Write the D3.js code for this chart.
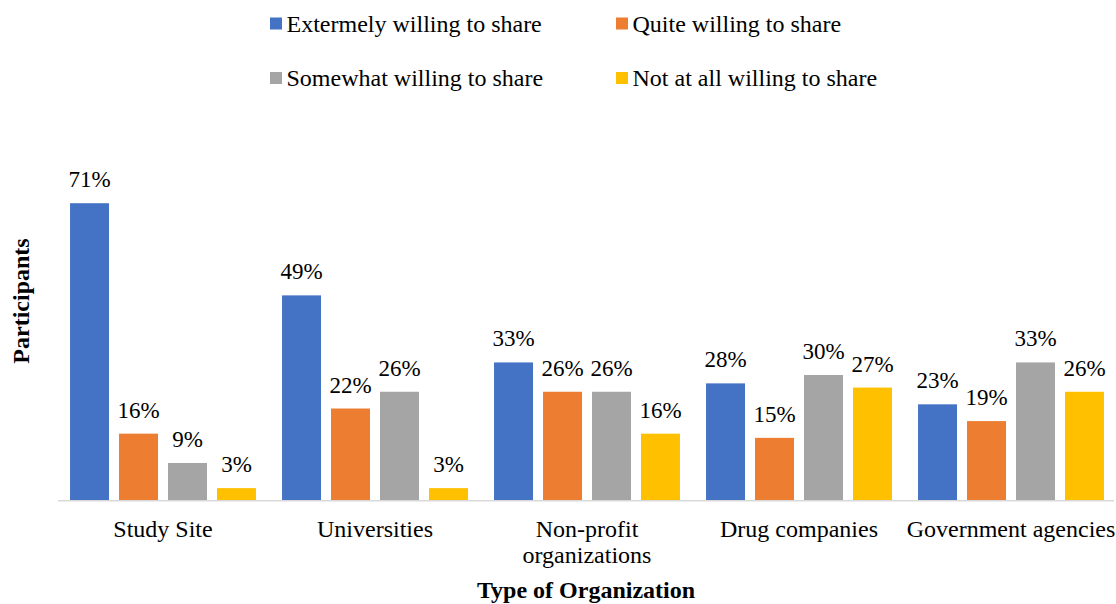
<!DOCTYPE html>
<html>
<head>
<meta charset="utf-8">
<script src="https://cdn.jsdelivr.net/npm/d3@7"></script>
<style>
  html, body { margin: 0; padding: 0; background: #fff; }
  svg { display: block; font-family: "Liberation Serif", "Times New Roman", serif; }
</style>
</head>
<body>
<svg id="chart" width="1116" height="604"></svg>
<script>
// Organization types along the x axis
const categories = ["Study Site", "Universities", "Non-profit organizations", "Drug companies", "Government agencies"];
// Wrapped category labels as shown under the axis
const categoryLines = [["Study Site"], ["Universities"], ["Non-profit", "organizations"], ["Drug companies"], ["Government agencies"]];

// Willingness levels (legend order)
const seriesNames = ["Extermely willing to share", "Quite willing to share", "Somewhat willing to share", "Not at all willing to share"];
const seriesColors = ["#4472C4", "#ED7D31", "#A5A5A5", "#FFC000"];

// Percent of participants per organization type, one array per willingness level
const extremely = [71, 49, 33, 28, 23];
const quite     = [16, 22, 26, 15, 19];
const somewhat  = [9, 26, 26, 30, 33];
const notAtAll  = [3, 3, 16, 27, 26];
const seriesValues = [extremely, quite, somewhat, notAtAll];

const svg = d3.select("#chart");

const x0 = d3.scaleBand()
  .domain(categories)
  .range([57, 1117])
  .paddingInner(0.123)
  .paddingOuter(0.0615);

const x1 = d3.scaleBand()
  .domain(seriesNames)
  .range([0, x0.bandwidth()])
  .paddingInner(0.204);

const y = d3.scaleLinear().domain([0, 80]).range([500.7, 165.5]);

// Bars and value labels
const groups = svg.append("g").selectAll("g")
  .data(categories)
  .join("g")
  .attr("transform", d => `translate(${x0(d)},0)`);

seriesNames.forEach((name, si) => {
  groups.append("rect")
    .attr("x", x1(name))
    .attr("width", x1.bandwidth())
    .attr("y", (d, ci) => y(seriesValues[si][ci]))
    .attr("height", (d, ci) => y(0) - y(seriesValues[si][ci]))
    .attr("fill", seriesColors[si]);

  groups.append("text")
    .attr("x", x1(name) + x1.bandwidth() / 2)
    .attr("y", (d, ci) => y(seriesValues[si][ci]) - 16)
    .attr("text-anchor", "middle")
    .attr("font-size", 23)
    .attr("fill", "#000")
    .text((d, ci) => seriesValues[si][ci] + "%");
});

// Baseline
svg.append("line")
  .attr("x1", 58).attr("x2", 1114)
  .attr("y1", y(0)).attr("y2", y(0))
  .attr("stroke", "#d9d9d9").attr("stroke-width", 1.5);

// Category labels
const catLabels = svg.append("g").selectAll("text")
  .data(categories)
  .join("text")
  .attr("x", d => x0(d) + x0.bandwidth() / 2)
  .attr("y", 537)
  .attr("text-anchor", "middle")
  .attr("font-size", 24)
  .attr("fill", "#000");
catLabels.each(function(d, i) {
  const t = d3.select(this);
  categoryLines[i].forEach((line, li) => {
    t.append("tspan")
      .attr("x", x0(d) + x0.bandwidth() / 2)
      .attr("dy", li === 0 ? 0 : 26)
      .text(line);
  });
});

// Axis titles
svg.append("text")
  .attr("x", 586).attr("y", 598)
  .attr("text-anchor", "middle")
  .attr("font-size", 24).attr("font-weight", "bold")
  .text("Type of Organization");

svg.append("text")
  .attr("transform", "translate(29,301) rotate(-90)")
  .attr("text-anchor", "middle")
  .attr("font-size", 24).attr("font-weight", "bold")
  .text("Participants");

// Legend: two rows, two columns
const legendPos = [[270, 17.5], [616, 17.5], [270, 72], [616, 72]];
const legend = svg.append("g").selectAll("g")
  .data(seriesNames)
  .join("g")
  .attr("transform", (d, i) => `translate(${legendPos[i][0]},${legendPos[i][1]})`);
legend.append("rect")
  .attr("width", 12).attr("height", 12)
  .attr("fill", (d, i) => seriesColors[i]);
legend.append("text")
  .attr("x", 16.5).attr("y", 14)
  .attr("font-size", 24)
  .attr("fill", "#000")
  .text(d => d);
</script>
</body>
</html>
